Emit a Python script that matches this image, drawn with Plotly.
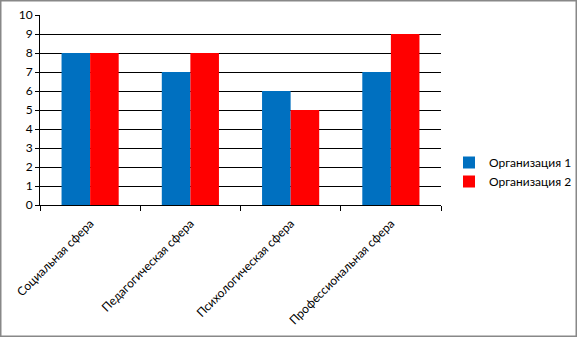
import plotly.graph_objects as go

categories = ["Социальная сфера", "Педагогическая сфера", "Психологическая сфера", "Профессиональная сфера"]
org1 = [8, 7, 6, 7]
org2 = [8, 8, 5, 9]
series_names = ["Организация 1", "Организация 2"]

W, H = 578, 338
L, R, T, B = 40, 137, 15, 133
pw, ph = W - L - R, H - T - B

fig = go.Figure()
fig.add_trace(go.Bar(x=categories, y=org1, name=series_names[0], marker=dict(color="#0070C0", line=dict(width=0))))
fig.add_trace(go.Bar(x=categories, y=org2, name=series_names[1], marker=dict(color="#FF0000", line=dict(width=0))))

font = "Lato, 'Open Sans', sans-serif"
fig.update_layout(
    width=W, height=H,
    margin=dict(l=L, r=R, t=T, b=B, pad=0, autoexpand=False),
    paper_bgcolor="white", plot_bgcolor="white",
    barmode="group", bargap=0.43, bargroupgap=0,
    font=dict(family=font, size=12, color="black"),
    showlegend=True,
    legend=dict(x=(449 - L) / pw, y=1 - (148 - T) / ph, xanchor="left", yanchor="top",
                font=dict(size=12, family=font), tracegroupgap=0, itemwidth=30,
                bgcolor="rgba(0,0,0,0)"),
    xaxis=dict(tickangle=-45, ticks="outside", ticklen=5, tickcolor="black", tickson="boundaries",
               showline=True, linecolor="black", linewidth=1, showgrid=False, automargin=False,
               ticklabelstandoff=6, tickfont=dict(size=12, family=font)),
    yaxis=dict(range=[0, 10], dtick=1, ticks="outside", ticklen=4, tickcolor="black", automargin=False,
               showline=True, linecolor="black", linewidth=1, showgrid=True, gridcolor="black",
               gridwidth=1, zeroline=False, tickfont=dict(size=12, family=font)),
    shapes=[dict(type="rect", xref="paper", yref="paper",
                 x0=(0.75 - L) / pw, x1=(W - 1.75 - L) / pw,
                 y0=-(H - 1.75 - T - ph) / ph, y1=1 + (T - 0.75) / ph,
                 line=dict(color="#888888", width=1.5), layer="below")],
)

fig.write_html("out.html", config={"displayModeBar": False},
               post_script="document.body.style.margin='0';document.body.style.overflow='hidden';")
